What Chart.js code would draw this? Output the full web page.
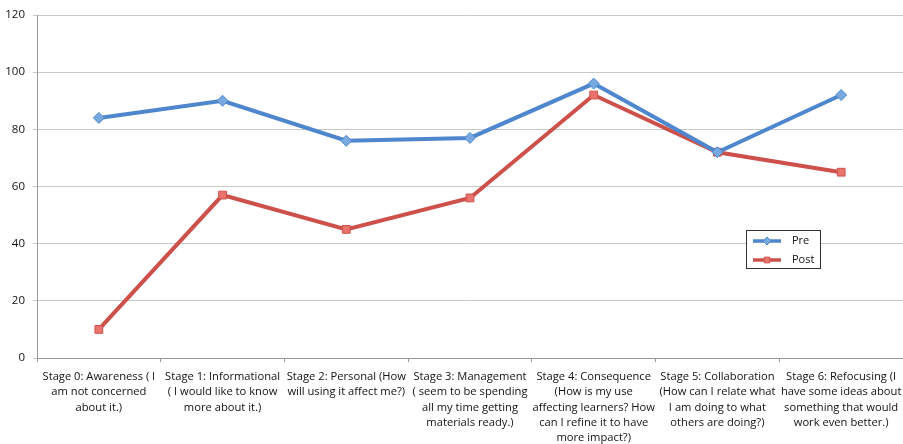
<!DOCTYPE html>
<html>
<head>
<meta charset="utf-8">
<script src="https://cdn.jsdelivr.net/npm/chart.js@4/dist/chart.umd.min.js"></script>
<style>
  html, body { margin: 0; padding: 0; background: #fff; }
  #wrap { width: 903px; height: 444px; }
</style>
</head>
<body>
<div id="wrap"><canvas id="myChart" width="903" height="444"></canvas></div>
<script>
const stages = [
  ["Stage 0: Awareness ( I", "am not concerned", "about it.)"],
  ["Stage 1: Informational", "( I would like to know", "more about it.)"],
  ["Stage 2: Personal (How", "will using it affect me?)"],
  ["Stage 3: Management", "( seem to be spending", "all my time getting", "materials ready.)"],
  ["Stage 4: Consequence", "(How is my use", "affecting learners? How", "can I refine it to have", "more impact?)"],
  ["Stage 5: Collaboration", "(How can I relate what", "I am doing to what", "others are doing?)"],
  ["Stage 6: Refocusing (I", "have some ideas about", "something that would", "work even better.)"]
];
const preValues = [84, 90, 76, 77, 96, 72, 92];
const postValues = [10, 57, 45, 56, 92, 72, 65];
const yTicks = [0, 20, 40, 60, 80, 100, 120];

const colors = {
  blue: { line: "rgb(78, 135, 205)", fill: "rgb(120, 170, 225)" },
  red: { line: "rgb(205, 80, 75)", fill: "rgb(235, 115, 110)" },
};
const font = "'Open Sans', 'Liberation Sans', sans-serif";

// legend box drawn inside the plot, like the original
const boxLegend = {
  id: "boxLegend",
  afterDraw(chart) {
    const ctx = chart.ctx;
    const x = 746, y = 230, w = 74, h = 38;
    ctx.save();
    ctx.fillStyle = "#fff";
    ctx.fillRect(x, y, w, h);
    ctx.strokeStyle = "#333";
    ctx.lineWidth = 1;
    ctx.strokeRect(x + 0.5, y + 0.5, w, h);
    chart.data.datasets.forEach((ds, i) => {
      const ly = y + 11 + i * 19;
      ctx.strokeStyle = ds.borderColor;
      ctx.lineWidth = 3.5;
      ctx.beginPath();
      ctx.moveTo(x + 7, ly);
      ctx.lineTo(x + 35, ly);
      ctx.stroke();
      ctx.fillStyle = ds.pointBackgroundColor;
      ctx.strokeStyle = ds.pointBorderColor;
      ctx.lineWidth = 1;
      Chart.helpers.drawPoint(ctx, { pointStyle: ds.pointStyle, radius: 4, borderWidth: 1 }, x + 21, ly);
      ctx.fillStyle = "#111";
      ctx.font = "11px " + font;
      ctx.textBaseline = "middle";
      ctx.fillText(ds.label, x + 46, ly);
    });
    ctx.restore();
  }
};

const ctx = document.getElementById("myChart").getContext("2d");
new Chart(ctx, {
  type: "line",
  data: {
    labels: stages,
    datasets: [
      {
        label: "Pre",
        data: preValues,
        borderColor: colors.blue.line,
        borderWidth: 4,
        pointStyle: "rectRot",
        pointRadius: 5.5,
        pointBackgroundColor: colors.blue.fill,
        pointBorderColor: colors.blue.line,
        pointBorderWidth: 1,
        tension: 0,
      },
      {
        label: "Post",
        data: postValues,
        borderColor: colors.red.line,
        borderWidth: 4,
        pointStyle: "rect",
        pointRadius: 5.5,
        pointBackgroundColor: colors.red.fill,
        pointBorderColor: colors.red.line,
        pointBorderWidth: 1,
        tension: 0,
      },
    ],
  },
  options: {
    responsive: false,
    animation: false,
    layout: { autoPadding: false, padding: { top: 15, right: -3, left: 0, bottom: 0 } },
    plugins: {
      legend: { display: false },
      tooltip: { enabled: false },
    },
    scales: {
      x: {
        offset: true,
        afterFit(scale) {
          scale.height = 86;
          scale.paddingLeft = 0;
          scale.paddingRight = 0;
        },
        grid: {
          offset: true,
          drawOnChartArea: false,
          drawTicks: true,
          tickLength: 4,
          color: "#999",
        },
        border: { display: true, color: "#999" },
        ticks: {
          maxRotation: 0,
          autoSkip: false,
          padding: 7,
          color: "#111",
          font: { family: font, size: 11.2, lineHeight: 1.37 },
        },
      },
      y: {
        min: 0,
        max: 120,
        afterFit(scale) { scale.width = 37; },
        afterBuildTicks(scale) { scale.ticks = yTicks.map(v => ({ value: v })); },
        grid: { color: "#c8c8c8", tickLength: 4, lineWidth: 1 },
        border: { display: true, color: "#999" },
        ticks: {
          padding: 8,
          color: "#111",
          font: { family: font, size: 11.5 },
        },
      },
    },
  },
  plugins: [boxLegend],
});
</script>
</body>
</html>
